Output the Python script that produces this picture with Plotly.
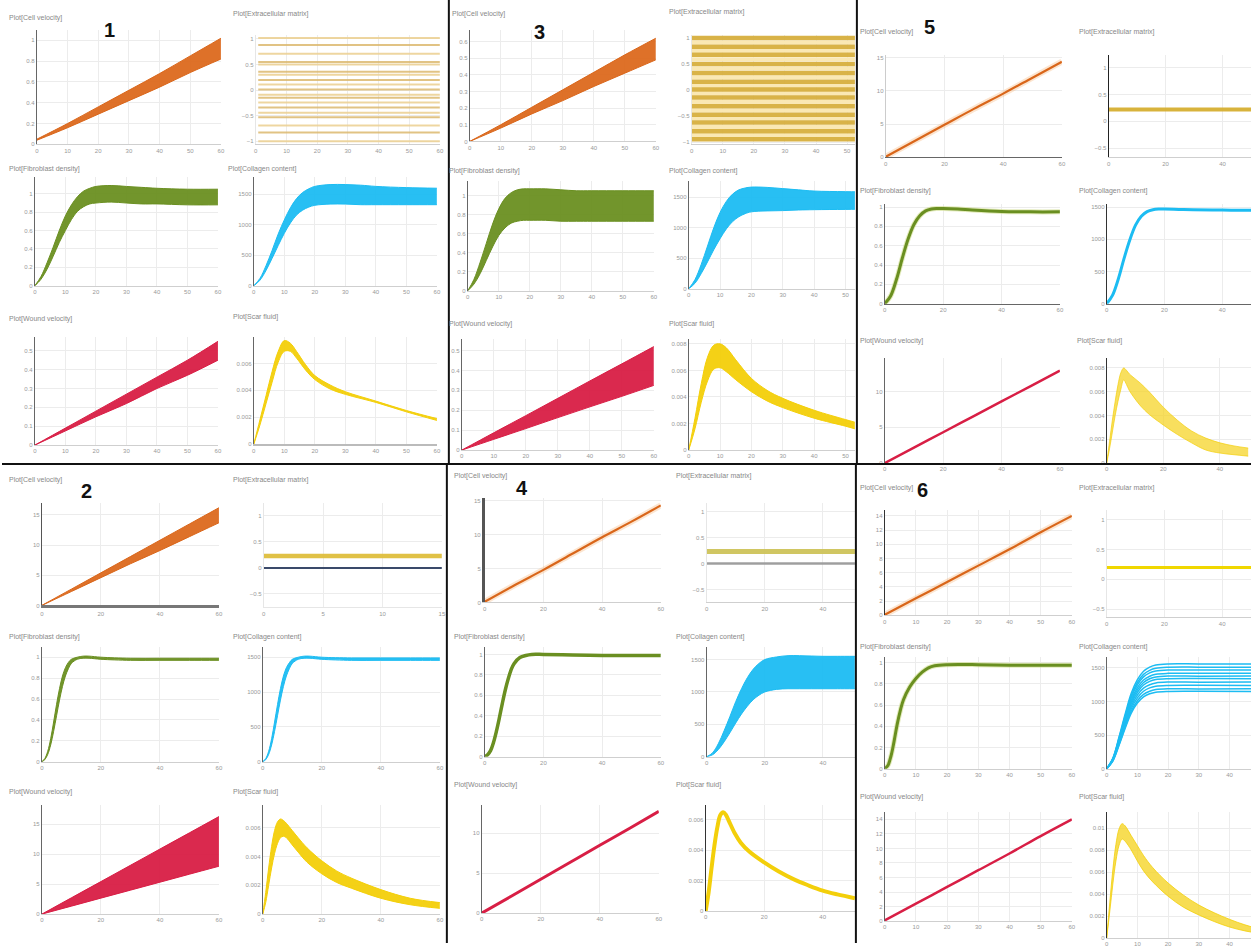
import plotly.graph_objects as go

W, H = 1255, 947

# ---------------- shared x grids ----------------
T_LIN = [0, 10, 20, 30, 40, 50, 60]
T_SIG = [0, 2, 4, 6, 8, 10, 12, 14, 16, 18, 20, 25, 30, 35, 40, 50, 60]
T_FAST = [0, 1, 2, 3, 4, 5, 6, 7, 8, 9, 10, 12, 14, 16, 20, 30, 40, 50, 60]
T_PEAK = [0, 2, 4, 6, 8, 10, 12, 15, 20, 25, 30, 40, 50, 60]

# ---------------- titles ----------------
titles = ["Plot[Cell velocity]", "Plot[Extracellular matrix]", "Plot[Fibroblast density]",
          "Plot[Collagen content]", "Plot[Wound velocity]", "Plot[Scar fluid]"]
panel_labels = ["1", "2", "3", "4", "5", "6"]

# ---------------- panel 1 ----------------
p1_vel_lo = [0.04, 0.16, 0.29, 0.42, 0.55, 0.69, 0.82]
p1_vel_hi = [0.05, 0.20, 0.36, 0.52, 0.68, 0.85, 1.02]
p1_ecm_levels = [1.02, 0.88, 0.71, 0.55, 0.50, 0.36, 0.30, 0.20, 0.11, 0.01, -0.09,
                 -0.15, -0.24, -0.34, -0.44, -0.53, -0.69, -0.83, -1.0]
p1_fib_hi = [0, 0.10, 0.25, 0.42, 0.60, 0.76, 0.88, 0.97, 1.03, 1.06, 1.08, 1.09, 1.08, 1.07, 1.06, 1.05, 1.05]
p1_fib_lo = [0, 0.07, 0.18, 0.32, 0.47, 0.60, 0.72, 0.81, 0.86, 0.89, 0.90, 0.91, 0.90, 0.89, 0.89, 0.88, 0.88]
p1_col_hi = [0, 120, 330, 580, 850, 1080, 1280, 1430, 1530, 1590, 1630, 1660, 1660, 1650, 1630, 1610, 1600]
p1_col_lo = [0, 90, 250, 450, 660, 860, 1030, 1160, 1240, 1290, 1320, 1340, 1340, 1330, 1330, 1330, 1330]
p1_wnd_hi = [0, 0.09, 0.18, 0.27, 0.36, 0.45, 0.55]
p1_wnd_lo = [0, 0.075, 0.15, 0.22, 0.30, 0.37, 0.45]
T1_PEAK = [0, 2, 4, 6, 8, 10, 12, 14, 17, 20, 25, 30, 40, 50, 60]
p1_scar_hi = [0, 0.0018, 0.0036, 0.0054, 0.0069, 0.0077, 0.0075, 0.0069, 0.0059, 0.0051, 0.0044, 0.0039, 0.0032, 0.0025, 0.0019]
p1_scar_lo = [0, 0.0014, 0.0030, 0.0046, 0.0061, 0.0069, 0.0069, 0.0064, 0.0055, 0.0048, 0.0041, 0.0037, 0.0031, 0.0024, 0.00176]

# ---------------- panel 3 ----------------
p3_vel_hi = [0, 0.10, 0.205, 0.31, 0.415, 0.52, 0.62]
p3_vel_lo = [0, 0.08, 0.165, 0.245, 0.33, 0.41, 0.49]
p3_ecm_gold = [1.0, 0.83, 0.68, 0.50, 0.33, 0.16, 0.01, -0.14, -0.31, -0.47, -0.62, -0.79, -0.94]
p3_ecm_pale = [0.915, 0.755, 0.59, 0.415, 0.245, 0.085, -0.065, -0.225, -0.39, -0.545, -0.705, -0.865]
p3_fib_hi = [0, 0.12, 0.30, 0.50, 0.70, 0.86, 0.97, 1.03, 1.06, 1.07, 1.07, 1.07, 1.06, 1.05, 1.05, 1.05, 1.05]
p3_fib_lo = [0, 0.07, 0.18, 0.32, 0.46, 0.58, 0.66, 0.71, 0.73, 0.74, 0.74, 0.74, 0.73, 0.73, 0.73, 0.73, 0.73]
p3_col_hi = [0, 150, 400, 700, 1000, 1250, 1430, 1550, 1620, 1650, 1665, 1660, 1640, 1620, 1600, 1590, 1585]
p3_col_lo = [0, 90, 250, 440, 640, 820, 980, 1100, 1180, 1230, 1260, 1275, 1280, 1290, 1295, 1300, 1305]
p3_wnd_hi = [0, 0.087, 0.173, 0.26, 0.347, 0.433, 0.52]
p3_wnd_lo = [0, 0.054, 0.108, 0.163, 0.217, 0.27, 0.325]
T3_PEAK = [0, 2, 4, 6, 8, 10, 12, 15, 20, 25, 30, 40, 50, 53]
p3_scar_hi = [0, 0.0024, 0.0050, 0.0070, 0.0079, 0.0080, 0.0077, 0.0068, 0.0054, 0.0045, 0.0039, 0.0030, 0.0023, 0.0021]
p3_scar_lo = [0, 0.0016, 0.0036, 0.0052, 0.0061, 0.0062, 0.0059, 0.0053, 0.0044, 0.0037, 0.0032, 0.0024, 0.0018, 0.0016]

# ---------------- panel 5 ----------------
p5_vel = [0.1, 2.5, 4.9, 7.3, 9.6, 12.0, 14.4]
p5_ecm_level = [0.22]
T5_SIG = [0, 2, 4, 6, 8, 10, 12, 14, 16, 18, 20, 25, 30, 40, 50, 60]
p5_fib = [0, 0.08, 0.25, 0.47, 0.67, 0.82, 0.91, 0.96, 0.98, 0.985, 0.985, 0.98, 0.97, 0.955, 0.95, 0.95]
p5_col = [0, 130, 380, 700, 990, 1220, 1360, 1430, 1460, 1470, 1470, 1465, 1460, 1455, 1450, 1450]
p5_wnd = [0, 2.15, 4.3, 6.45, 8.6, 10.75, 12.9]
T5_PEAK = [0, 1, 2, 3, 4, 5, 6, 7, 8, 10, 12, 15, 20, 25, 30, 35, 40, 45, 50]
p5_scar_hi = [0, 0.0018, 0.0036, 0.0052, 0.0066, 0.0076, 0.0080, 0.0078, 0.0075, 0.0071, 0.0067, 0.0060, 0.0047, 0.0036, 0.0027, 0.0021, 0.0017, 0.00144, 0.00126]
p5_scar_lo = [0, 0.0012, 0.0026, 0.0040, 0.0052, 0.0062, 0.0070, 0.0066, 0.0061, 0.0054, 0.0048, 0.0041, 0.0032, 0.0024, 0.0017, 0.0011, 0.00084, 0.0007, 0.00058]

# ---------------- panel 2 ----------------
p2_vel_hi = [0, 2.7, 5.4, 8.1, 10.8, 13.5, 16.2]
p2_vel_lo = [0, 2.3, 4.6, 6.9, 9.1, 11.4, 13.7]
p2_ecm_gold = [0.23]
p2_ecm_base = [0.0]
p2_fib_hi = [0, 0.03, 0.10, 0.22, 0.38, 0.55, 0.70, 0.82, 0.90, 0.95, 0.98, 1.0, 1.01, 1.01, 1.0, 0.99, 0.99, 0.99, 0.99]
p2_fib_lo = [0, 0.02, 0.07, 0.16, 0.29, 0.44, 0.59, 0.72, 0.82, 0.89, 0.94, 0.98, 0.99, 0.99, 0.98, 0.97, 0.97, 0.97, 0.97]
p2_col_hi = [0, 45, 150, 330, 570, 820, 1050, 1230, 1350, 1420, 1470, 1500, 1515, 1515, 1500, 1490, 1490, 1490, 1490]
p2_col_lo = [0, 30, 105, 240, 435, 660, 885, 1080, 1230, 1335, 1410, 1470, 1485, 1485, 1470, 1455, 1455, 1455, 1455]
p2_wnd_hi = [0, 2.72, 5.43, 8.15, 10.87, 13.58, 16.3]
p2_wnd_lo = [0, 1.33, 2.67, 4.0, 5.33, 6.67, 8.0]
T2_PEAK = [0, 1, 2, 3, 4, 5, 6, 7, 8, 10, 12, 15, 20, 25, 30, 40, 50, 60]
p2_scar_hi = [0, 0.0015, 0.0032, 0.0047, 0.0058, 0.0064, 0.0066, 0.0065, 0.0063, 0.0058, 0.0053, 0.0046, 0.0037, 0.0030, 0.0025, 0.0017, 0.0011, 0.0008]
p2_scar_lo = [0, 0.0008, 0.0020, 0.0032, 0.0042, 0.0049, 0.0053, 0.0054, 0.0053, 0.0048, 0.0043, 0.0036, 0.0028, 0.0022, 0.0018, 0.0011, 0.00065, 0.0004]

# ---------------- panel 4 ----------------
p4_vel = [0.1, 2.5, 4.8, 7.2, 9.6, 11.9, 14.3]
p4_ecm_gold = [0.23]
p4_ecm_base = [0.0]
p4_fib = [0, 0.02, 0.06, 0.14, 0.25, 0.38, 0.52, 0.65, 0.76, 0.85, 0.91, 0.97, 0.99, 1.0, 1.0, 0.995, 0.99, 0.99, 0.99]
T4_COL = [0, 2, 4, 6, 8, 10, 12, 14, 16, 18, 20, 24, 28, 32, 36, 40, 45, 51]
p4_col_hi = [0, 60, 200, 400, 620, 850, 1050, 1220, 1350, 1440, 1500, 1540, 1560, 1560, 1555, 1550, 1550, 1550]
p4_col_lo = [0, 30, 110, 230, 370, 520, 660, 780, 880, 950, 1000, 1040, 1050, 1050, 1050, 1050, 1050, 1050]
p4_wnd = [0, 2.12, 4.25, 6.37, 8.5, 10.6, 12.75]
T4_PEAK = [0, 1, 2, 3, 4, 5, 6, 7, 8, 10, 12, 15, 20, 25, 30, 35, 40, 45, 51]
p4_scar = [0, 0.0012, 0.0028, 0.0043, 0.0055, 0.0063, 0.0065, 0.0063, 0.0059, 0.0051, 0.0045, 0.0039, 0.0032, 0.0026, 0.0021, 0.0017, 0.00135, 0.0011, 0.00085]

# ---------------- panel 6 ----------------
p6_vel = [0.1, 2.4, 4.7, 7.0, 9.3, 11.7, 14.0]
p6_ecm_level = [0.2]
T6_SIG = [0, 1, 2, 3, 4, 5, 6, 8, 10, 12, 14, 16, 20, 30, 40, 50, 60]
p6_fib = [0, 0.03, 0.12, 0.26, 0.42, 0.55, 0.65, 0.77, 0.85, 0.91, 0.95, 0.97, 0.98, 0.98, 0.975, 0.975, 0.975]
T6_COL = [0, 2, 4, 6, 8, 10, 12, 14, 16, 20, 30, 47]
p6_col_lines = [
    [0, 156, 468, 811, 1123, 1326, 1451, 1513, 1544, 1560, 1560, 1560],
    [0, 151, 453, 785, 1087, 1284, 1404, 1465, 1495, 1510, 1512, 1510],
    [0, 147, 441, 764, 1058, 1250, 1367, 1426, 1455, 1470, 1468, 1470],
    [0, 142, 426, 738, 1022, 1207, 1321, 1377, 1406, 1420, 1422, 1420],
    [0, 138, 414, 718, 994, 1173, 1283, 1339, 1366, 1380, 1378, 1380],
    [0, 134, 402, 697, 965, 1139, 1246, 1300, 1327, 1340, 1342, 1340],
    [0, 129, 387, 671, 929, 1097, 1200, 1251, 1277, 1290, 1288, 1290],
    [0, 124, 372, 645, 893, 1054, 1153, 1203, 1228, 1240, 1242, 1240],
    [0, 119, 357, 619, 857, 1012, 1107, 1154, 1178, 1190, 1188, 1190],
    [0, 115, 345, 598, 828, 978, 1070, 1116, 1139, 1150, 1152, 1150],
]
p6_wnd = [0.1, 2.4, 4.7, 7.0, 9.3, 11.7, 14.0]
T6_PEAK = [0, 1, 2, 3, 4, 5, 6, 8, 10, 12, 15, 20, 25, 30, 35, 40, 45, 50]
p6_scar_hi = [0, 0.0032, 0.0062, 0.0085, 0.0099, 0.0104, 0.0102, 0.0093, 0.0084, 0.0075, 0.0064, 0.0050, 0.0039, 0.0030, 0.0023, 0.0017, 0.0012, 0.0008]
p6_scar_lo = [0, 0.0024, 0.0049, 0.0070, 0.0084, 0.0090, 0.0088, 0.0080, 0.0070, 0.0061, 0.0051, 0.0038, 0.0028, 0.0021, 0.0015, 0.0010, 0.00065, 0.0004]

# ---------------- colours ----------------
ORANGE = "#d9661a"
GREEN = "#6a8f21"
CYAN = "#1cbcf2"
RED = "#d81e45"
YELLOW = "#f3cf0a"

fig = go.Figure()
K = [0]


def new_axes(xpx, ypx, xr, yr, xt, yt, yline="#666", xline="#cfcfcf", ylw=1, xlw=1):
    K[0] += 1
    k = K[0]
    s = "" if k == 1 else str(k)
    xd = [xpx[0] / W, min(1.0, xpx[1] / W)]
    yd = [max(0.0, 1 - ypx[1] / H), 1 - ypx[0] / H]
    common = dict(showgrid=True, gridcolor="#ececec", gridwidth=1, zeroline=False,
                  tickfont=dict(size=6, color="#999", family="Arial"), ticks="",
                  fixedrange=True, showline=True)
    fig.update_layout(**{
        "xaxis" + s: dict(domain=xd, range=xr, tickvals=xt, anchor="y" + s,
                          linecolor=xline, linewidth=xlw, **common),
        "yaxis" + s: dict(domain=yd, range=yr, tickvals=yt, anchor="x" + s,
                          linecolor=yline, linewidth=ylw, **common),
    })
    return "x" + s, "y" + s


def band(ax, x, lo, hi, col, fill):
    fig.add_trace(go.Scatter(x=x, y=lo, mode="lines", line=dict(color=col, width=1, shape="spline"),
                             xaxis=ax[0], yaxis=ax[1], showlegend=False, hoverinfo="skip"))
    fig.add_trace(go.Scatter(x=x, y=hi, mode="lines", fill="tonexty", fillcolor=fill,
                             line=dict(color=col, width=1, shape="spline"),
                             xaxis=ax[0], yaxis=ax[1], showlegend=False, hoverinfo="skip"))


def line(ax, x, y, col, w, halo=None, hw=6):
    if halo:
        fig.add_trace(go.Scatter(x=x, y=y, mode="lines", line=dict(color=halo, width=hw, shape="spline"),
                                 xaxis=ax[0], yaxis=ax[1], showlegend=False, hoverinfo="skip"))
    fig.add_trace(go.Scatter(x=x, y=y, mode="lines", line=dict(color=col, width=w, shape="spline"),
                             xaxis=ax[0], yaxis=ax[1], showlegend=False, hoverinfo="skip"))


def hlines(ax, levels, x0, x1, col, w):
    for v in levels:
        fig.add_trace(go.Scatter(x=[x0, x1], y=[v, v], mode="lines", line=dict(color=col, width=w),
                                 xaxis=ax[0], yaxis=ax[1], showlegend=False, hoverinfo="skip"))


annots = []


def title(px, py, text):
    annots.append(dict(x=px / W, y=1 - py / H, xref="paper", yref="paper", xanchor="left",
                       yanchor="middle", text=text, showarrow=False,
                       font=dict(size=7, color="#888", family="Arial")))


XT60 = [0, 10, 20, 30, 40, 50, 60]
XT4 = [0, 20, 40, 60]
Y01 = [0, 0.2, 0.4, 0.6, 0.8, 1.0]
YC = [0, 500, 1000, 1500]
YS = [-1, -0.5, 0, 0.5, 1]

# ================= PANEL 1 =================
a = new_axes((35, 220), (30, 145), [0, 60], [0, 1.1], XT60, Y01)
band(a, T_LIN, p1_vel_lo, p1_vel_hi, ORANGE, "rgba(220,105,30,0.95)")
title(5, 18, titles[0])
a = new_axes((255, 440), (35, 145), [0, 60], [-1.06, 1.08], XT60, YS, yline="#e6e6e6")
for i, v in enumerate(p1_ecm_levels):
    hlines(a, [v], 0.8, 60, "rgba(220,185,110,0.85)" if i % 2 else "rgba(236,210,150,0.9)", 2)
title(230, 14, titles[1])
a = new_axes((33, 217), (178, 287), [0, 60], [0, 1.18], XT60, Y01)
band(a, T_SIG, p1_fib_lo, p1_fib_hi, GREEN, "rgba(106,143,33,0.95)")
title(5, 170, titles[2])
a = new_axes((253, 437), (178, 287), [0, 60], [0, 1780], XT60, YC)
band(a, T_SIG, p1_col_lo, p1_col_hi, CYAN, "rgba(28,188,242,0.95)")
title(225, 170, titles[3])
a = new_axes((33, 217), (338, 447), [0, 60], [0, 0.575], XT60, [0, 0.1, 0.2, 0.3, 0.4, 0.5])
band(a, T_LIN, p1_wnd_lo, p1_wnd_hi, RED, "rgba(216,30,69,0.95)")
title(5, 320, titles[4])
a = new_axes((253, 437), (338, 446), [0, 60], [0, 0.008], XT60, [0, 0.002, 0.004, 0.006], xline="#bbb", xlw=2)
band(a, T1_PEAK, p1_scar_lo, p1_scar_hi, YELLOW, "rgba(243,207,10,0.95)")
title(230, 318, titles[5])

# ================= PANEL 3 =================
a = new_axes((470, 657), (30, 142), [0, 60], [0, 0.67], XT60, [0, 0.1, 0.2, 0.3, 0.4, 0.5, 0.6])
band(a, T_LIN, p3_vel_lo, p3_vel_hi, ORANGE, "rgba(220,105,30,0.95)")
title(450, 14, titles[0])
a = new_axes((693, 857), (35, 145), [0, 52.5], [-1.04, 1.06], [0, 10, 20, 30, 40, 50], YS, yline="#e6e6e6")
hlines(a, p3_ecm_pale, 0, 60, "rgba(250,232,180,1)", 4)
hlines(a, p3_ecm_gold, 0, 60, "rgba(214,172,56,0.92)", 4.5)
title(668, 12, titles[1])
a = new_axes((468, 655), (182, 292), [0, 60], [0, 1.15], XT60, Y01)
band(a, T_SIG, p3_fib_lo, p3_fib_hi, GREEN, "rgba(106,143,33,0.95)")
title(447, 172, titles[2])
a = new_axes((690, 857), (182, 290), [0, 53], [0, 1761], [0, 10, 20, 30, 40, 50], YC)
band(a, T_SIG, p3_col_lo, p3_col_hi, CYAN, "rgba(28,188,242,0.95)")
title(668, 172, titles[3])
a = new_axes((462, 655), (340, 452), [0, 60], [0, 0.56], XT60, [0, 0.1, 0.2, 0.3, 0.4, 0.5])
band(a, T_LIN, p3_wnd_lo, p3_wnd_hi, RED, "rgba(216,30,69,0.95)")
title(447, 325, titles[4])
a = new_axes((690, 857), (340, 452), [0, 53], [0, 0.0084], [0, 10, 20, 30, 40, 50], [0, 0.002, 0.004, 0.006, 0.008])
band(a, T3_PEAK, p3_scar_lo, p3_scar_hi, YELLOW, "rgba(243,207,10,0.95)")
title(668, 325, titles[5])

# ================= PANEL 5 =================
a = new_axes((888, 1065), (55, 158), [0, 60], [0, 15.45], XT4, [0, 5, 10, 15], yline="#ccc", xline="#666")
line(a, T_LIN, p5_vel, ORANGE, 2.2, halo="rgba(245,180,120,0.35)")
title(860, 32, titles[0])
a = new_axes((1112, 1255), (55, 158), [0, 50], [-0.67, 1.24], [0, 20, 40], YS, yline="#222")
hlines(a, p5_ecm_level, 0, 60, "rgba(214,175,50,0.95)", 4)
title(1080, 32, titles[1])
a = new_axes((887, 1063), (205, 305), [0, 60], [0, 1.03], XT4, Y01, xline="#666")
line(a, T5_SIG, p5_fib, GREEN, 3, halo="rgba(200,215,120,0.5)", hw=5)
title(860, 192, titles[2])
a = new_axes((1110, 1255), (205, 305), [0, 50], [0, 1547], [0, 20, 40], YC, yline="#333", xline="#666")
line(a, T5_SIG, p5_col, CYAN, 3)
title(1080, 192, titles[3])
a = new_axes((887, 1063), (360, 465), [0, 60], [0, 14.6], XT4, [0, 5, 10])
line(a, T_LIN, p5_wnd, RED, 2.5)
title(860, 342, titles[4])
a = new_axes((1110, 1255), (360, 465), [0, 51], [0, 0.0088], [0, 20, 40], [0, 0.002, 0.004, 0.006, 0.008], yline="#333")
band(a, T5_PEAK, p5_scar_lo, p5_scar_hi, "rgba(243,207,10,0.7)", "rgba(245,212,40,0.75)")
title(1078, 342, titles[5])

# ================= PANEL 2 =================
a = new_axes((40, 218), (505, 608), [0, 60], [0, 17], XT4, [0, 5, 10, 15], yline="#555", xline="#777", xlw=3)
band(a, T_LIN, p2_vel_lo, p2_vel_hi, ORANGE, "rgba(220,105,30,0.95)")
title(5, 482, titles[0])
a = new_axes((263, 442), (505, 610), [0, 15], [-0.76, 1.25], [0, 5, 10, 15], YS, yline="#e6e6e6", xline="#e6e6e6")
hlines(a, p2_ecm_base, 0, 15, "#3a4a6a", 2)
hlines(a, p2_ecm_gold, 0, 15, "rgba(222,190,60,0.95)", 4.5)
title(230, 482, titles[1])
a = new_axes((40, 218), (650, 765), [0, 60], [0, 1.095], XT4, Y01)
band(a, T_FAST, p2_fib_lo, p2_fib_hi, GREEN, "rgba(106,143,33,0.95)")
title(5, 640, titles[2])
a = new_axes((262, 440), (650, 765), [0, 60], [0, 1643], XT4, YC)
band(a, T_FAST, p2_col_lo, p2_col_hi, CYAN, "rgba(28,188,242,0.95)")
title(230, 640, titles[3])
a = new_axes((40, 218), (808, 918), [0, 60], [0, 18.3], XT4, [0, 5, 10, 15])
band(a, T_LIN, p2_wnd_lo, p2_wnd_hi, RED, "rgba(216,30,69,0.95)")
title(5, 795, titles[4])
a = new_axes((262, 440), (808, 918), [0, 60], [0, 0.0076], XT4, [0, 0.002, 0.004, 0.006])
band(a, T2_PEAK, p2_scar_lo, p2_scar_hi, YELLOW, "rgba(243,207,10,0.95)")
title(230, 795, titles[5])

# ================= PANEL 4 =================
a = new_axes((485, 662), (500, 605), [0, 60], [0, 15.4], XT4, [0, 5, 10, 15], yline="#555", ylw=2.5)
line(a, T_LIN, p4_vel, ORANGE, 2.2, halo="rgba(245,180,120,0.35)")
title(452, 478, titles[0])
a = new_axes((708, 857), (505, 605), [0, 51], [-0.75, 1.17], [0, 20, 40], YS, yline="#e6e6e6")
hlines(a, p4_ecm_base, 0, 60, "rgba(150,150,150,0.9)", 2.5)
hlines(a, p4_ecm_gold, 0, 60, "rgba(205,195,90,0.95)", 5)
title(675, 478, titles[1])
a = new_axes((485, 662), (650, 760), [0, 60], [0, 1.07], XT4, Y01)
line(a, T_FAST, p4_fib, GREEN, 3.5)
title(452, 640, titles[2])
a = new_axes((708, 857), (650, 760), [0, 51], [0, 1690], [0, 20, 40], YC)
band(a, T4_COL, p4_col_lo, p4_col_hi, CYAN, "rgba(28,188,242,0.95)")
title(675, 640, titles[3])
a = new_axes((482, 660), (808, 917), [0, 60], [0, 13.6], XT4, [0, 5, 10])
line(a, T_LIN, p4_wnd, RED, 3)
title(452, 788, titles[4])
a = new_axes((707, 857), (808, 915), [0, 51], [0, 0.007], [0, 20, 40], [0, 0.002, 0.004, 0.006], yline="#333")
line(a, T4_PEAK, p4_scar, YELLOW, 4)
title(675, 788, titles[5])

# ================= PANEL 6 =================
a = new_axes((887, 1075), (512, 618), [0, 60], [0, 14.85], XT60, [0, 2, 4, 6, 8, 10, 12, 14], yline="#333")
line(a, T_LIN, p6_vel, ORANGE, 2.2, halo="rgba(245,180,120,0.35)")
title(860, 490, titles[0])
a = new_axes((1110, 1255), (512, 620), [0, 50], [-0.64, 1.17], [0, 20, 40], YS, yline="#e6e6e6")
hlines(a, p6_ecm_level, 0, 60, "rgba(240,215,0,1)", 3)
title(1080, 490, titles[1])
a = new_axes((887, 1075), (660, 772), [0, 60], [0, 1.05], XT60, Y01)
line(a, T6_SIG, p6_fib, GREEN, 3, halo="rgba(200,215,120,0.5)", hw=5)
title(860, 650, titles[2])
a = new_axes((1110, 1255), (660, 772), [0, 47], [0, 1660], [0, 10, 20, 30, 40], YC)
for row in p6_col_lines:
    line(a, T6_COL, row, CYAN, 1.5)
title(1080, 650, titles[3])
a = new_axes((887, 1075), (815, 925), [0, 60], [0, 15.07], XT60, [0, 2, 4, 6, 8, 10, 12, 14])
line(a, T_LIN, p6_wnd, RED, 2.5)
title(860, 800, titles[4])
a = new_axes((1110, 1255), (815, 942), [0, 47], [0, 0.0115], [0, 10, 20, 30, 40], [0, 0.002, 0.004, 0.006, 0.008, 0.010], yline="#333")
band(a, T6_PEAK, p6_scar_lo, p6_scar_hi, "rgba(243,207,10,0.8)", "rgba(245,212,40,0.8)")
title(1080, 800, titles[5])

# ---------------- panel numbers ----------------
num_pos = [(108, 30), (85, 493), (540, 32), (522, 490), (932, 27), (925, 492)]
for lab, (px, py) in zip(panel_labels, num_pos):
    annots.append(dict(x=px / W, y=1 - py / H, xref="paper", yref="paper", text="<b>" + lab + "</b>",
                       showarrow=False, xanchor="center", yanchor="middle",
                       font=dict(size=20, color="#111", family="Arial")))

# ---------------- dividers ----------------
shapes = [
    dict(type="line", xref="paper", yref="paper", x0=0, x1=1, y0=1 - 466 / H, y1=1 - 466 / H,
         line=dict(color="#111", width=2)),
    dict(type="line", xref="paper", yref="paper", x0=449 / W, x1=449 / W, y0=1 - 466 / H, y1=1,
         line=dict(color="#111", width=2)),
    dict(type="line", xref="paper", yref="paper", x0=447 / W, x1=447 / W, y0=0, y1=1 - 466 / H,
         line=dict(color="#111", width=2)),
    dict(type="line", xref="paper", yref="paper", x0=859 / W, x1=859 / W, y0=1 - 466 / H, y1=1,
         line=dict(color="#111", width=2)),
    dict(type="line", xref="paper", yref="paper", x0=858 / W, x1=858 / W, y0=0, y1=1 - 466 / H,
         line=dict(color="#111", width=2)),
]

fig.update_layout(width=W, height=H, margin=dict(l=0, r=0, t=0, b=0), paper_bgcolor="white",
                  plot_bgcolor="white", annotations=annots, shapes=shapes, showlegend=False)

fig.write_html("out.html", config={"displayModeBar": False},
               post_script="document.body.style.margin='0px';")
